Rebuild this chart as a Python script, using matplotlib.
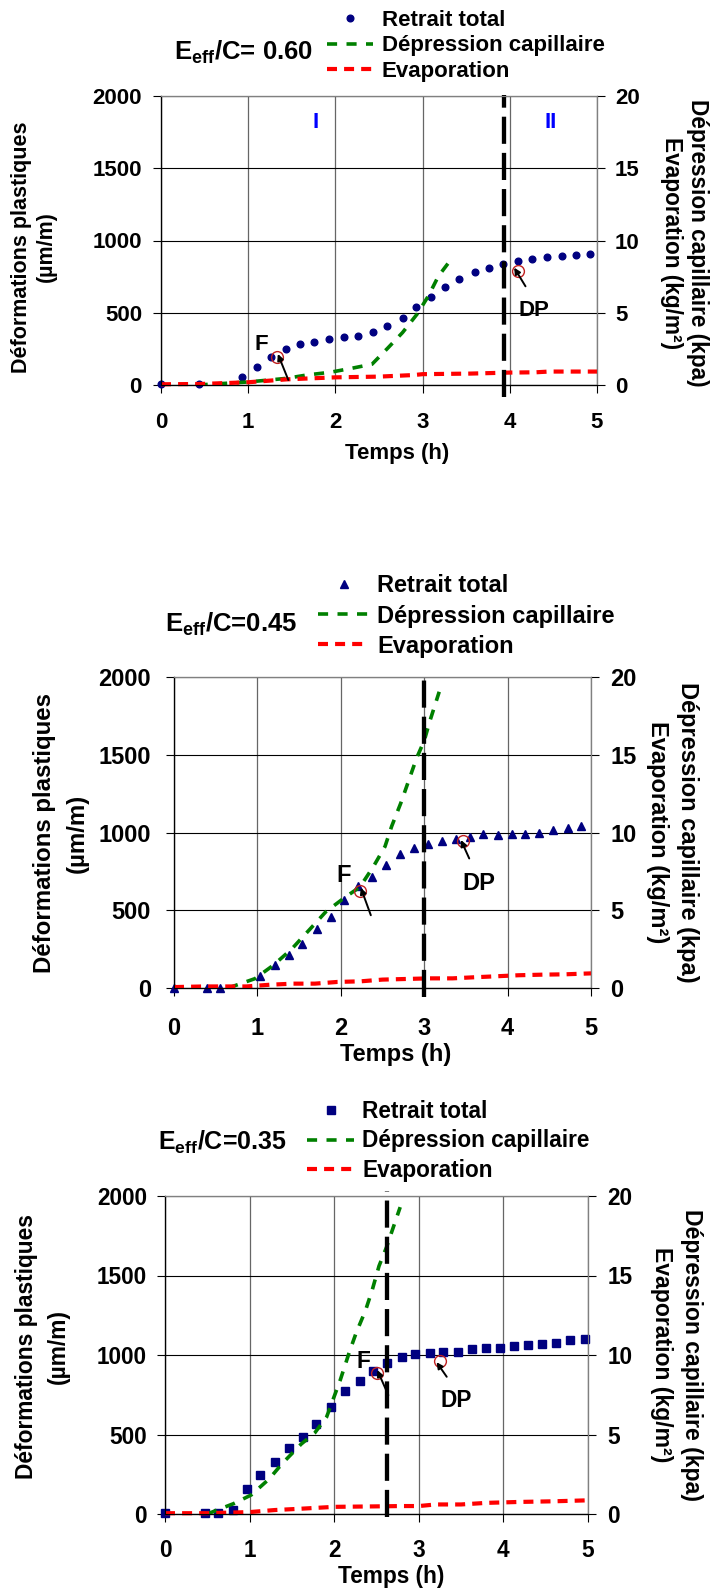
import matplotlib
matplotlib.use('Agg')
import matplotlib.pyplot as plt
from matplotlib.lines import Line2D

plt.rcParams['font.family'] = ['Liberation Sans', 'DejaVu Sans']
plt.rcParams['font.weight'] = 'bold'
plt.rcParams['mathtext.fontset'] = 'custom'
plt.rcParams['mathtext.rm'] = 'Liberation Sans:bold'
plt.rcParams['mathtext.bf'] = 'Liberation Sans:bold'
plt.rcParams['mathtext.it'] = 'Liberation Sans:bold'

# ---------------- data ----------------
legend_labels = ['Retrait total', 'Dépression capillaire', 'Evaporation']
x_ticks = [0, 1, 2, 3, 4, 5]
y_left_ticks = [0, 500, 1000, 1500, 2000]
y_right_ticks = [0, 5, 10, 15, 20]

# Panel 1 : E/C = 0.60
title1 = r'E$_{\mathbf{eff}}$/C= 0.60'
t1_retrait = [0, 0.44, 0.93, 1.10, 1.26, 1.43, 1.59, 1.76, 1.93, 2.10, 2.26, 2.43, 2.59, 2.77,
              2.93, 3.10, 3.26, 3.42, 3.60, 3.76, 3.92, 4.09, 4.26, 4.43, 4.60, 4.76, 4.92]
y1_retrait = [5, 5, 58, 127, 192, 248, 282, 296, 315, 331, 340, 366, 405, 463,
              537, 611, 676, 736, 785, 810, 838, 859, 875, 884, 894, 900, 907]
t1_dep = [0.42, 0.7, 1.0, 1.44, 1.67, 1.94, 2.19, 2.42, 2.6, 2.77, 2.94, 3.07, 3.18, 3.34]
v1_dep = [0.0, 0.1, 0.21, 0.46, 0.69, 0.88, 1.16, 1.44, 2.55, 3.63, 4.93, 6.2, 7.52, 8.8]
t1_evap = [0, 0.45, 1.0, 1.44, 2.0, 2.5, 2.9, 3.0, 3.55, 4.0, 4.3, 4.45, 5.0]
v1_evap = [0.05, 0.07, 0.19, 0.39, 0.53, 0.58, 0.69, 0.75, 0.79, 0.86, 0.88, 0.93, 0.93]
vline1 = 3.93
F1 = (1.33, 192)
DP1 = (4.09, 792)

# Panel 2 : E/C = 0.45
title2 = r'E$_{\mathbf{eff}}$/C=0.45'
t2_retrait = [0, 0.39, 0.55, 1.03, 1.21, 1.38, 1.54, 1.71, 1.88, 2.04, 2.21, 2.38, 2.54, 2.71,
              2.88, 3.05, 3.21, 3.38, 3.55, 3.71, 3.88, 4.05, 4.21, 4.38, 4.55, 4.72, 4.88]
y2_retrait = [0, 0, 0, 75, 150, 215, 286, 378, 457, 569, 659, 715, 794, 860,
              901, 923, 948, 959, 972, 991, 983, 991, 991, 998, 1015, 1032, 1041]
t2_dep = [0.65, 0.97, 1.19, 1.41, 1.65, 1.82, 2.03, 2.23, 2.39, 2.53, 2.61, 2.72, 2.91, 3.0, 3.07, 3.18]
v2_dep = [0.0, 0.6, 1.46, 2.5, 3.9, 4.9, 5.75, 6.5, 7.8, 9.1, 10.4, 11.9, 14.8, 15.9, 17.2, 19.05]
t2_evap = [0, 0.36, 0.87, 1.15, 1.43, 1.69, 1.96, 2.24, 2.5, 2.78, 3.06, 3.34, 3.6, 3.85, 4.13, 4.43, 4.69, 5.0]
v2_evap = [0.06, 0.1, 0.1, 0.21, 0.28, 0.28, 0.39, 0.43, 0.54, 0.58, 0.62, 0.62, 0.69, 0.75, 0.82, 0.86, 0.88, 0.94]
vline2 = 3.0
F2 = (2.23, 624)
DP2 = (3.46, 946)

# Panel 3 : E/C = 0.35
title3 = r'E$_{\mathbf{eff}}$/C=0.35'
t3_retrait = [0, 0.47, 0.63, 0.80, 0.97, 1.12, 1.30, 1.46, 1.63, 1.79, 1.96, 2.13, 2.30, 2.46, 2.63,
              2.80, 2.96, 3.13, 3.29, 3.46, 3.63, 3.80, 3.96, 4.13, 4.29, 4.46, 4.62, 4.79, 4.96]
y3_retrait = [6, 6, 6, 27, 155, 248, 325, 413, 485, 565, 674, 772, 839, 900, 951,
              989, 1006, 1012, 1020, 1020, 1035, 1041, 1041, 1056, 1062, 1068, 1077, 1093, 1100]
t3_dep = [0.5, 0.64, 0.81, 1.02, 1.23, 1.39, 1.61, 1.77, 1.91, 2.07, 2.18, 2.26, 2.37, 2.45, 2.53, 2.62, 2.69, 2.78]
v3_dep = [0.0, 0.3, 0.65, 1.2, 2.2, 3.2, 4.4, 5.1, 6.1, 8.4, 10.2, 11.4, 12.8, 14.1, 15.6, 16.8, 17.9, 19.3]
t3_evap = [0, 0.5, 1.0, 1.3, 1.6, 2.0, 2.5, 2.8, 3.0, 3.2, 3.5, 3.8, 4.2, 4.6, 5.0]
v3_evap = [0.05, 0.05, 0.12, 0.25, 0.33, 0.45, 0.48, 0.5, 0.5, 0.6, 0.6, 0.7, 0.76, 0.8, 0.86]
vline3 = 2.63
F3 = (2.51, 884)
DP3 = (3.25, 963)

W, H = 714, 1596
fig = plt.figure(figsize=(W / 100, H / 100), dpi=100)

NAVY = '#000080'
GREEN = '#008000'
RED = '#ff0000'


def fx(px):
    return px / W


def fy(py):
    return 1 - py / H


def panel(box, fs, t_r, y_r, t_d, v_d, t_e, v_e, vline, vspan, marker, ms, title, title_pos, tfs,
          leg_pos, leg_hl, leg_tp, leg_ls, ylab_left, ylab_right, xlab_pos, xpad, ypad, rpad,
          Fpt, Ftxt, Ftail, Fhead, DPpt, DPtxt, DPtail, DPhead, roman=None):
    l, t, r, b = box
    ax = fig.add_axes([fx(l), fy(b), (r - l) / W, (b - t) / H])
    ax.set_xlim(0, 5)
    ax.set_ylim(0, 2000)
    ax.set_xticks(x_ticks)
    ax.set_yticks(y_left_ticks)
    ax.yaxis.grid(True, color='black', lw=0.8)
    ax.xaxis.grid(True, color='#666666', lw=0.9)
    ax.set_axisbelow(True)
    for s in ['left', 'bottom']:
        ax.spines[s].set_color('black')
        ax.spines[s].set_linewidth(0.9)
    for s in ['top', 'right']:
        ax.spines[s].set_color('#808080')
        ax.spines[s].set_linewidth(0.9)
    ax.tick_params(axis='x', direction='out', length=5.8, width=0.8, pad=xpad, labelsize=fs)
    ax.tick_params(axis='y', direction='out', length=5.8, width=0.8, pad=ypad, labelsize=fs)

    ax2 = ax.twinx()
    ax2.set_ylim(0, 20)
    ax2.set_yticks(y_right_ticks)
    ax2.tick_params(axis='y', direction='out', length=5.8, width=0.8, pad=rpad, labelsize=fs)
    for s in ['top', 'right']:
        ax2.spines[s].set_color('#808080')

    ax.plot(t_r, y_r, ls='none', marker=marker, ms=ms, color=NAVY, mec=NAVY, clip_on=False, zorder=3)
    ax2.plot(t_d, v_d, color=GREEN, lw=2.6, dashes=(2.8, 2.6))
    ax2.plot(t_e, v_e, color=RED, lw=3.0, dashes=(2.4, 1.7), clip_on=False)
    ax2.axvline(vline, ymin=vspan[0], ymax=vspan[1], color='black', lw=3.1,
                dashes=(6.3, 2.1), clip_on=False)

    # annotations (in left-axis units)
    for pt, txt, tail, head, lab in [(Fpt, Ftxt, Ftail, Fhead, 'F'), (DPpt, DPtxt, DPtail, DPhead, 'DP')]:
        ax2.plot([pt[0]], [pt[1] / 100], ls='none', marker='o', ms=8.5, mfc='none',
                 mec='#c02020', mew=1.0, zorder=5)
        ax2.annotate('', xy=(head[0], head[1] / 100), xytext=(tail[0], tail[1] / 100),
                     arrowprops=dict(arrowstyle='-|>', color='black', lw=1.4,
                                     mutation_scale=9, shrinkA=0, shrinkB=0), zorder=6)
        ax2.text(txt[0], txt[1] / 100, lab, fontsize=fs, ha='center', va='center', zorder=6)
    if roman:
        for (xr, yr, s) in roman:
            ax2.text(xr, yr / 100, s, fontsize=fs, color='#0000ff', ha='center', va='center')

    handles = [Line2D([], [], ls='none', marker=marker, ms=ms, color=NAVY),
               Line2D([], [], color=GREEN, lw=2.6, dashes=(2.8, 2.6)),
               Line2D([], [], color=RED, lw=3.0, dashes=(2.4, 1.7))]
    fig.legend(handles, legend_labels, loc='center left',
               bbox_to_anchor=(fx(leg_pos[0]), fy(leg_pos[1])), frameon=False,
               fontsize=fs, handlelength=leg_hl, handletextpad=leg_tp, labelspacing=leg_ls,
               borderpad=0, borderaxespad=0, numpoints=1)

    fig.text(fx(title_pos[0]), fy(title_pos[1]), title, fontsize=tfs, ha='left', va='baseline')

    # axis titles
    (x1, x2, yc), lfs = ylab_left
    fig.text(fx(x1), fy(yc), 'Déformations plastiques', rotation=90, fontsize=lfs,
             ha='center', va='center')
    fig.text(fx(x2), fy(yc), '(µm/m)', rotation=90, fontsize=lfs, ha='center', va='center')
    (x1, x2, yc), rfs = ylab_right
    fig.text(fx(x1), fy(yc), 'Dépression capillaire (kpa)', rotation=270, fontsize=rfs,
             ha='center', va='center')
    fig.text(fx(x2), fy(yc), 'Evaporation (kg/m²)', rotation=270, fontsize=rfs,
             ha='center', va='center')
    fig.text(fx(xlab_pos[0]), fy(xlab_pos[1]), 'Temps (h)', fontsize=fs, ha='center', va='center')
    return ax, ax2


panel((161, 96, 597, 385), 16, t1_retrait, y1_retrait, t1_dep, v1_dep, t1_evap, v1_evap,
      vline1, (-0.042, 1.004), 'o', 4.8, title1, (174, 60), 18.5,
      (327, 46), 2.07, 0.4, 0.2, ((22, 46, 247), 15.5), ((697, 671, 243), 16.3),
      (397, 453), 13.5, 7.9, 7.2,
      F1, (1.15, 283), (1.46, 35), (1.34, 215), DP1, (4.28, 515), (4.18, 683), (4.05, 812),
      roman=[(1.77, 1820, 'I'), (4.47, 1820, 'II')])

panel((174, 677, 591, 988), 17, t2_retrait, y2_retrait, t2_dep, v2_dep, t2_evap, v2_evap,
      vline2, (-0.03, 1.0), '^', 6.3, title2, (165, 632), 18.5,
      (318, 616), 2.16, 0.34, 0.3, ((45, 77, 833), 17.3), ((687, 658, 832), 17.0),
      (396, 1055), 14.8, 10.8, 8.0,
      F2, (2.03, 725), (2.36, 468), (2.24, 645), DP2, (3.66, 672), (3.54, 833), (3.44, 952))

panel((165, 1196, 588, 1514), 16.3, t3_retrait, y3_retrait, t3_dep, v3_dep, t3_evap, v3_evap,
      vline3, (-0.01, 1.015), 's', 5.4, title3, (158, 1150), 18,
      (307, 1141), 2.08, 0.35, 0.3, ((27, 58, 1347), 16.4), ((692, 661, 1355), 16.6),
      (391, 1577), 12.2, 7.2, 8.0,
      F3, (2.34, 957), (2.64, 747), (2.51, 905), DP3, (3.44, 716), (3.33, 863), (3.21, 955))

fig.savefig('out.png', dpi=100)
